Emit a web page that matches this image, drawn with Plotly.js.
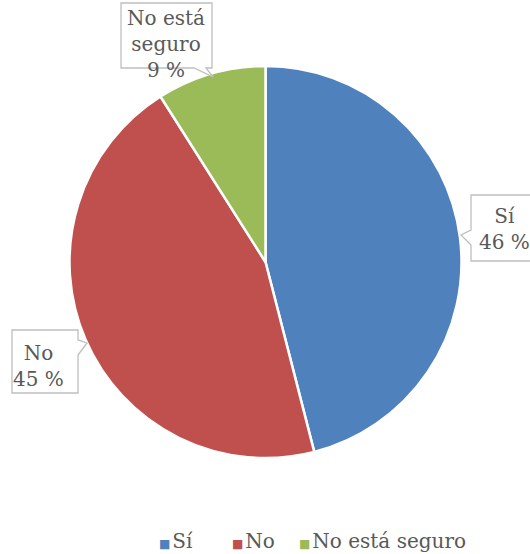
<!DOCTYPE html>
<html><head><meta charset="utf-8">
<script src="https://cdn.plot.ly/plotly-3.0.1.min.js"></script>
<style>html,body{margin:0;padding:0;background:#fff}</style>
</head><body>
<div id="chart" style="width:530px;height:554px"></div>
<script>
const categories = ["Sí", "No", "No está seguro"];
const values = [46, 45, 9];
const labelTexts = ["Sí<br>46 %", "No<br>45 %", "No está<br>seguro<br>9 %"];
const colors = ["#4F81BD", "#C0504D", "#9BBB59"];

const W = 530, H = 554;
const px = x => x / W;
const py = y => 1 - y / H;
function pathOf(pts) {
  return "M" + pts.map(p => px(p[0]).toFixed(4) + "," + py(p[1]).toFixed(4)).join(" L") + " Z";
}
const boxStyle = {type: "path", xref: "paper", yref: "paper", fillcolor: "#FFFFFF", line: {color: "#BFBFBF", width: 1.3}};
// callout boxes with pointers (pixel geometry)
const callouts = [
  [[471,195],[540,195],[540,261],[471,261],[471,245],[461,235],[471,230]],
  [[12,330],[78,330],[78,340],[87,343],[78,355],[78,393],[12,393]],
  [[121,3],[212,3],[212,68],[206,68],[213,77],[194,68],[121,68]]
];
const textPos = [[504,229],[38,366],[166,44]];
const legendX = [157, 230, 297];

const fnt = "DejaVu Serif, Liberation Serif, serif";
const data = [{
  type: "pie",
  labels: categories,
  values: values,
  sort: false,
  direction: "clockwise",
  rotation: 0,
  marker: {colors: colors, line: {color: "#FFFFFF", width: 2.5}},
  textinfo: "none",
  hoverinfo: "label+percent",
  showlegend: false,
  domain: {x: [px(69.5), px(461.5)], y: [py(458), py(66)]}
}];
const textAnn = labelTexts.map((t, i) => ({
  text: t, xref: "paper", yref: "paper", x: px(textPos[i][0]), y: py(textPos[i][1]),
  xanchor: "center", yanchor: "middle", showarrow: false, align: "center",
  font: {family: fnt, size: 20, color: "#595959"}
}));
const legendAnn = categories.map((c, i) => ({
  text: '<span style="color:' + colors[i] + ';font-size:12px">■</span>\u200A' + c,
  xref: "paper", yref: "paper", x: px(legendX[i]), y: py(541),
  xanchor: "left", yanchor: "middle", showarrow: false, align: "left",
  font: {family: fnt, size: 20, color: "#595959"}
}));
const layout = {
  width: W, height: H,
  margin: {l: 0, r: 0, t: 0, b: 0},
  paper_bgcolor: "#FFFFFF",
  showlegend: false,
  shapes: callouts.map(c => Object.assign({path: pathOf(c)}, boxStyle)),
  annotations: textAnn.concat(legendAnn)
};
Plotly.newPlot("chart", data, layout, {displayModeBar: false, staticPlot: true});
</script>
</body></html>
